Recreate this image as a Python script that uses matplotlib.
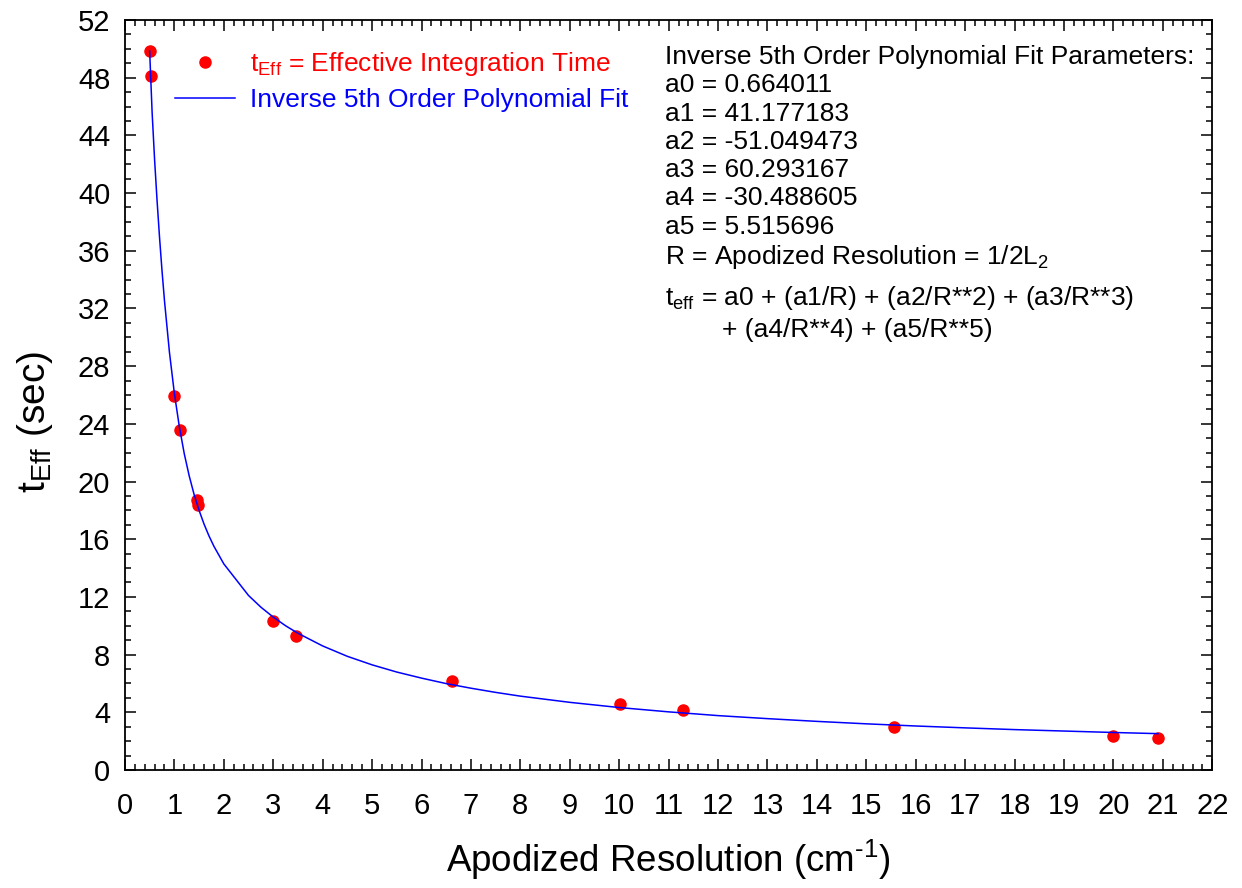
import matplotlib
matplotlib.use('Agg')
from matplotlib import pyplot as plt
from matplotlib.ticker import MultipleLocator

plt.rcParams['font.family'] = ['Liberation Sans', 'DejaVu Sans']
plt.rcParams['mathtext.fontset'] = 'custom'
plt.rcParams['mathtext.rm'] = 'Liberation Sans'
plt.rcParams['mathtext.it'] = 'Liberation Sans'
plt.rcParams['mathtext.default'] = 'rm'

# measured effective integration time vs apodized resolution
resolution = [0.5, 0.52, 1.0, 1.12, 1.45, 1.48, 3.0, 3.46, 6.61, 10.01, 11.3, 15.55, 20.0, 20.9]
t_eff = [49.85, 48.15, 25.95, 23.55, 18.7, 18.4, 10.3, 9.3, 6.15, 4.6, 4.15, 3.0, 2.33, 2.2]

# fitted curve
fit_x = [0.5, 0.55, 0.6, 0.65, 0.7, 0.75, 0.8, 0.9, 1.0, 1.1, 1.2, 1.3, 1.4, 1.5,
         1.6, 1.7, 1.8, 2.0, 2.5, 2.75, 3.0, 3.25, 3.5, 4.0, 4.5, 5.0, 5.5, 6.0,
         6.5, 7.0, 7.5, 8.0, 9.0, 10.0, 11.0, 12.0, 13.0, 14.0, 15.0, 16.0,
         17.0, 18.0, 19.0, 20.0, 20.9]
fit_y = [49.85, 45.57, 42.3, 39.47, 36.92, 34.61, 32.53, 28.97, 26.11, 23.81,
         21.93, 20.39, 19.09, 18.0, 17.05, 16.23, 15.51, 14.29, 12.10, 11.29,
         10.6, 10.0, 9.48, 8.6, 7.88, 7.29, 6.79, 6.37, 5.99, 5.67, 5.38, 5.12,
         4.69, 4.33, 4.03, 3.77, 3.56, 3.37, 3.2, 3.05, 2.92, 2.8, 2.7, 2.6, 2.52]

fit_params = ['a0 = 0.664011', 'a1 = 41.177183', 'a2 = -51.049473',
              'a3 = 60.293167', 'a4 = -30.488605', 'a5 = 5.515696']

fig = plt.figure(figsize=(12.42, 8.88), dpi=100)
ax = fig.add_axes([0.1006, 0.1329, 0.8755, 0.8446])

pts, = ax.plot(resolution, t_eff, 'o', color='red', markersize=8, zorder=2,
               label=r'$\mathregular{t_{Eff}}$ = Effective Integration Time')
fit, = ax.plot(fit_x, fit_y, '-', color='blue', linewidth=1.1, zorder=3,
               label='Inverse 5th Order Polynomial Fit')

ax.set_xlim(0, 22)
ax.set_ylim(0, 52)
ax.xaxis.set_major_locator(MultipleLocator(1))
ax.xaxis.set_minor_locator(MultipleLocator(0.2))
ax.yaxis.set_major_locator(MultipleLocator(4))
ax.yaxis.set_minor_locator(MultipleLocator(1))
ax.tick_params(which='both', direction='in', top=True, right=True, labelsize=21, width=1.1)
ax.tick_params(which='major', length=8)
ax.tick_params(which='minor', length=4.5)
ax.tick_params(axis='x', which='major', pad=16)
ax.tick_params(axis='y', which='major', pad=10.5)
for s in ax.spines.values():
    s.set_linewidth(1.3)

ax.set_xlabel('Apodized Resolution (cm$^{\\mathregular{\u20101}}$)', fontsize=26.5)
ax.xaxis.set_label_coords(0.5, -0.091)
ax.set_ylabel(r'$\mathregular{t_{Eff}}$ (sec)', fontsize=28)
ax.yaxis.set_label_coords(-0.064, 0.464)

leg = ax.legend(loc='upper left', bbox_to_anchor=(0.046, 0.96), frameon=False,
                fontsize=19, numpoints=1, handlelength=2.27, handletextpad=0.57,
                labelspacing=0.37, borderpad=0, borderaxespad=0)
leg.get_texts()[0].set_color('red')
leg.get_texts()[1].set_color('blue')

# fit parameter block
x0 = 0.4968
y0 = 0.9507
step = 0.0377
ax.text(x0, y0, 'Inverse 5th Order Polynomial Fit Parameters:', transform=ax.transAxes,
        fontsize=19, va='center')
for i, p in enumerate(fit_params):
    ax.text(x0, y0 - step * (i + 1), p, transform=ax.transAxes, fontsize=19, va='center')
ax.text(x0, y0 - step * 7 - 0.003, r'R = Apodized Resolution = 1/2L$_2$',
        transform=ax.transAxes, fontsize=19, va='center')
ax.text(x0, y0 - step * 8 - 0.0198, r't$_{eff}$ = a0 + (a1/R) + (a2/R**2) + (a3/R**3)',
        transform=ax.transAxes, fontsize=19, va='center')
ax.text(0.549, y0 - step * 9 - 0.0247, '+ (a4/R**4) + (a5/R**5)',
        transform=ax.transAxes, fontsize=19, va='center')

fig.savefig('out.png', dpi=100)
